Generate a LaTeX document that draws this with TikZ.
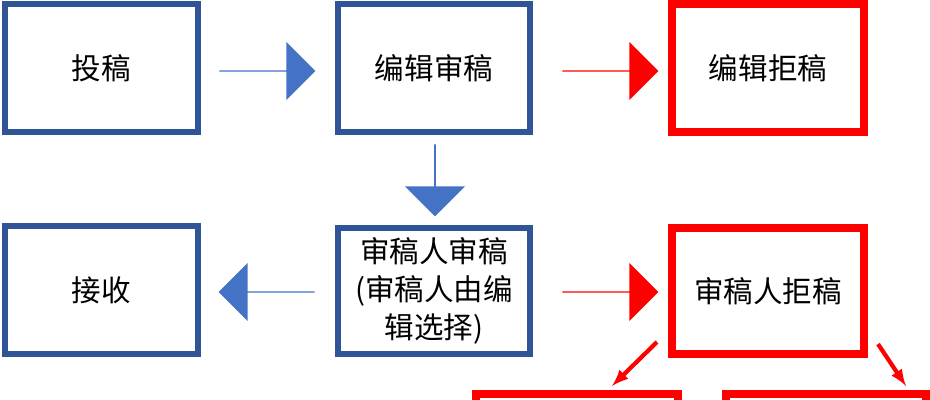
\documentclass[tikz,border=0pt]{standalone}
\usepackage{fontspec}
\newfontfamily\cjk{Noto Sans CJK SC}
\usetikzlibrary{shapes.arrows}
\definecolor{boxblue}{HTML}{2F5597}
\definecolor{arrowblue}{HTML}{4472C4}
\definecolor{rejred}{HTML}{FF0000}
\tikzset{%
		every stage/.style={
			draw=boxblue,
			line width=4.3pt,
			fill=white,
			minimum width=4.8cm,
			minimum height=3.2cm,
			align=center,
			font=\cjk\fontsize{21}{27}\selectfont
		},
		stage reject/.style={
			draw=rejred,
			line width=6.2pt
		},
		block arrow/.style={
			single arrow,
			draw=none,
			fill=#1,
			minimum width=1.45cm,
			minimum height=2.4cm,
			single arrow head extend=0.33cm,
			single arrow head indent=0pt,
			inner sep=0pt
		},
	}
\begin{document}
\begin{tikzpicture}[x=0.025cm, y=-0.025cm, >=latex]
			\clip (0,0) rectangle (930,400);
			\fill[white] (0,0) rectangle (930,400);

			% draw the boxes
			\node [every stage] (submit) at (101.5,68) {投稿};
			\node [every stage] (editor) at (434,68) {编辑审稿};
			\node [every stage, stage reject] (editor-reject) at (768,68) {编辑拒稿};
			\node [every stage] (accept) at (101.5,290) {接收};
			\node [every stage, minimum height=3.15cm] (review) at (434,291) {审稿人审稿\\(审稿人由编\\辑选择)};
			\node [every stage, stage reject, minimum height=3.15cm] (review-reject) at (768,291) {审稿人拒稿};
			\node [every stage, stage reject, minimum width=5.05cm] (bottom-1) at (577,458) {};
			\node [every stage, stage reject, minimum width=5cm] (bottom-2) at (826,458) {};

			% draw block arrows between boxes
			\node [block arrow=arrowblue] (a-1) at (267,71) {};
			\node [block arrow=rejred] (a-2) at (610,71) {};
			\node [block arrow=arrowblue, rotate=-90, minimum width=1.5cm, minimum height=1.8cm, single arrow head extend=0.25cm] (a-3) at (435,180) {};
			\node [block arrow=arrowblue, shape border rotate=180] (a-4) at (267,292) {};
			\node [block arrow=rejred] (a-5) at (610,292) {};

			% draw thin arrows to the lower boxes
			\coordinate (s-1) at (657,342);
			\coordinate (e-1) at (612,386);
			\coordinate (s-2) at (878,344);
			\coordinate (e-2) at (906,386);
			\draw [->, rejred, line width=3pt] (s-1) -- (e-1);
			\draw [->, rejred, line width=3pt] (s-2) -- (e-2);
\end{tikzpicture}
\end{document}
